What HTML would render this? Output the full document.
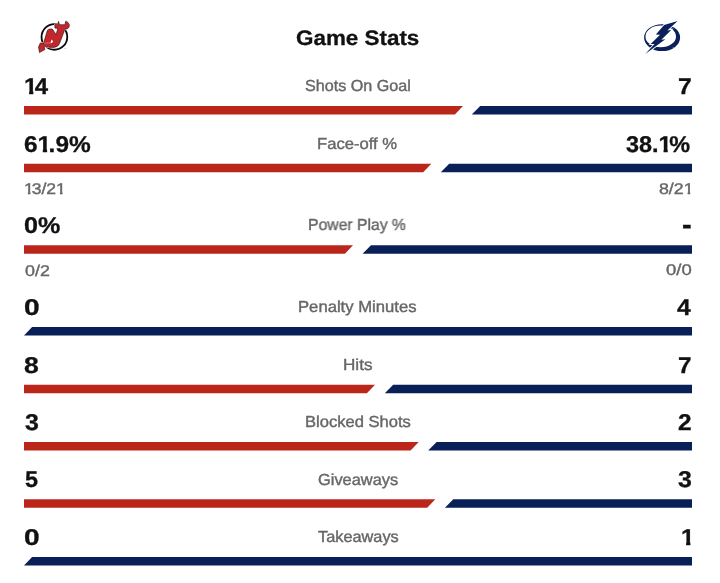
<!DOCTYPE html>
<html><head><meta charset="utf-8"><title>Game Stats</title>
<style>
html,body{margin:0;padding:0;background:#fff;}
body{width:720px;height:583px;position:relative;overflow:hidden;font-family:"Liberation Sans",sans-serif;}
svg{position:absolute;left:0;top:0;}
.t{position:absolute;white-space:nowrap;line-height:1;transform-origin:0 0;will-change:transform;text-rendering:geometricPrecision;}
.b{font-weight:700;color:#111111;-webkit-text-stroke:0.3px #111111;}
.g{font-weight:400;color:#666666;-webkit-text-stroke:0.4px #666666;}
</style></head><body>

<svg width="720" height="583" viewBox="0 0 720 583">
<polygon fill="#BB261B" points="24,106 463,106 454.9,114.5 24,114.5"/>
<polygon fill="#091F57" points="480.2,106 692,106 692,114.5 471.8,114.5"/>
<polygon fill="#BB261B" points="24,163.7 431.3,163.7 423.2,172.2 24,172.2"/>
<polygon fill="#091F57" points="449.2,163.7 692,163.7 692,172.2 440.8,172.2"/>
<polygon fill="#BB261B" points="24,245.15 353,245.15 344.9,253.65 24,253.65"/>
<polygon fill="#091F57" points="371,245.15 692,245.15 692,253.65 362.6,253.65"/>
<polygon fill="#091F57" points="32.1,327 692,327 692,335.5 24,335.5"/>
<polygon fill="#BB261B" points="24,384.65 375,384.65 366.9,393.15 24,393.15"/>
<polygon fill="#091F57" points="393.2,384.65 692,384.65 692,393.15 384.8,393.15"/>
<polygon fill="#BB261B" points="24,442 418.7,442 410.6,450.5 24,450.5"/>
<polygon fill="#091F57" points="436.6,442 692,442 692,450.5 428.2,450.5"/>
<polygon fill="#BB261B" points="24,499.2 435.3,499.2 427.2,507.7 24,507.7"/>
<polygon fill="#091F57" points="453.3,499.2 692,499.2 692,507.7 444.9,507.7"/>
<polygon fill="#091F57" points="32.1,557 692,557 692,565.5 24,565.5"/>
<g>
<circle cx="54.4" cy="36.9" r="12.85" fill="#fff" stroke="#0a0a0a" stroke-width="1.8"/>
<path d="M47.4,30.3 Q48.3,29.2 49.8,29.0 L52.3,29.0 L56.1,34.6 L57.8,28.4 L54.9,28.1 L54.8,24.5 L57.7,24.2 L58.5,21.3 L59.5,24.7 L64.9,24.7 L65.7,21.2 Q68.5,22.0 69.3,24.6 Q69.8,27.2 67.6,28.8 L64.9,29.3 L59.5,43.6 Q58.4,46.9 54.0,47.4 L50,47.4 L47.6,47.1 L44.0,46.0 L44.9,49.6 L39.5,52.6 L38.5,47.0 L40.3,43.0 L43.6,43.1 Z" fill="#fff" stroke="#fff" stroke-width="1.5" stroke-linejoin="round"/>
<path d="M47.4,30.3 Q48.3,29.2 49.8,29.0 L52.3,29.0 L56.1,34.6 L57.8,28.4 L54.9,28.1 L54.8,24.5 L57.7,24.2 L58.5,21.3 L59.5,24.7 L64.9,24.7 L65.7,21.2 Q68.5,22.0 69.3,24.6 Q69.8,27.2 67.6,28.8 L64.9,29.3 L59.5,43.6 Q58.4,46.9 54.0,47.4 L50,47.4 L47.6,47.1 L44.0,46.0 L44.9,49.6 L39.5,52.6 L38.5,47.0 L40.3,43.0 L43.6,43.1 Z" fill="#C1272D" stroke="#2a0c0c" stroke-width="0.6" stroke-linejoin="round"/>
<path d="M51.4,39.6 L53.2,41.3 L51.9,43.0 L50.6,43.0 Z" fill="#fff"/>
<path d="M44.4,43.05 L51,42.95" stroke="#fff" stroke-width="0.45" stroke-opacity="0.75" fill="none"/>
</g>
<g transform="translate(640,16) scale(0.07202)">
<path fill-rule="evenodd" fill="#0A1F5C" d="M307,113 A250,187 0 1 0 307.1,487 A250,187 0 1 0 307,113 Z M288,131 A212,152 0 1 1 287.9,435 A212,152 0 1 1 288,131 Z"/>
<path d="M522,68 L335,126 L220,258 L278,260 L148,388 L202,390 L73,527 L352,322 L296,330 L434,193 L380,202 Z" fill="#0A1F5C" stroke="#fff" stroke-width="24" stroke-linejoin="miter"/>
<path d="M522,68 L335,126 L220,258 L278,260 L148,388 L202,390 L73,527 L352,322 L296,330 L434,193 L380,202 Z" fill="#0A1F5C"/>
</g>
<circle cx="673.2" cy="47.6" r="0.55" fill="#8b93ad"/>
<circle cx="65.1" cy="48.2" r="0.55" fill="#999"/>

</svg>
<div class="t b" style="left:296px;top:27.5px;font-size:21px;transform:scaleX(1.0673)">Game Stats</div>
<div class="t g" style="left:305.1px;top:79.3px;font-size:16px;transform:scaleX(1.0075)">Shots On Goal</div>
<div class="t g" style="left:317.43px;top:137px;font-size:16px;transform:scaleX(1.0393)">Face-off %</div>
<div class="t g" style="left:308.49px;top:218.45px;font-size:16px;transform:scaleX(0.9834)">Power Play %</div>
<div class="t g" style="left:298.43px;top:300.3px;font-size:16px;transform:scaleX(1.0412)">Penalty Minutes</div>
<div class="t g" style="left:343px;top:357.95px;font-size:16px;transform:scaleX(1.0692)">Hits</div>
<div class="t g" style="left:304.74px;top:415.3px;font-size:16px;transform:scaleX(1.0342)">Blocked Shots</div>
<div class="t g" style="left:317.96px;top:472.5px;font-size:16px;transform:scaleX(1.0239)">Giveaways</div>
<div class="t g" style="left:317.97px;top:530.3px;font-size:16px;transform:scaleX(1.0200)">Takeaways</div>
<div class="t b" style="left:23.56px;top:75.1px;font-size:22.8px;transform:scaleX(1.0497)"><span style="display:inline-block;margin-right:-0.105em;clip-path:polygon(0 0,100% 0,100% 15.67px,8.90px 15.67px,8.90px 100%,4.87px 100%,4.87px 15.67px,0 15.67px)">1</span>4</div>
<div class="t b" style="left:24.23px;top:132.8px;font-size:22.8px;transform:scaleX(1.0710)">6<span style="display:inline-block;margin-right:-0.105em;clip-path:polygon(0 0,100% 0,100% 15.67px,8.90px 15.67px,8.90px 100%,4.87px 100%,4.87px 15.67px,0 15.67px)">1</span>.9%</div>
<div class="t b" style="left:23.97px;top:214.25px;font-size:22.8px;transform:scaleX(1.1024)">0%</div>
<div class="t b" style="left:23.88px;top:296.1px;font-size:22.8px;transform:scaleX(1.2315)">0</div>
<div class="t b" style="left:24.07px;top:353.75px;font-size:22.8px;transform:scaleX(1.1652)">8</div>
<div class="t b" style="left:24.79px;top:411.1px;font-size:22.8px;transform:scaleX(1.0925)">3</div>
<div class="t b" style="left:24.69px;top:468.3px;font-size:22.8px;transform:scaleX(1.0298)">5</div>
<div class="t b" style="left:23.88px;top:526.1px;font-size:22.8px;transform:scaleX(1.2315)">0</div>
<div class="t b" style="left:678.35px;top:75.1px;font-size:22.8px;transform:scaleX(1.0818)">7</div>
<div class="t b" style="left:626.41px;top:132.8px;font-size:22.8px;transform:scaleX(1.0276)">38.<span style="display:inline-block;margin-right:-0.105em;clip-path:polygon(0 0,100% 0,100% 15.67px,8.90px 15.67px,8.90px 100%,4.87px 100%,4.87px 15.67px,0 15.67px)">1</span>%</div>
<div class="t b" style="left:677.03px;top:296.1px;font-size:22.8px;transform:scaleX(1.0800)">4</div>
<div class="t b" style="left:678.37px;top:353.75px;font-size:22.8px;transform:scaleX(1.0636)">7</div>
<div class="t b" style="left:678.08px;top:411.1px;font-size:22.8px;transform:scaleX(1.0711)">2</div>
<div class="t b" style="left:677.89px;top:468.3px;font-size:22.8px;transform:scaleX(1.0925)">3</div>
<div class="t b" style="left:681.45px;top:526.1px;font-size:22.8px;transform:scaleX(1.0533)"><span style="display:inline-block;margin-right:-0.105em;clip-path:polygon(0 0,100% 0,100% 15.67px,8.90px 15.67px,8.90px 100%,4.87px 100%,4.87px 15.67px,0 15.67px)">1</span></div>
<div class="t b" style="left:681.87px;top:210.2px;font-size:28.3px;transform:scaleX(1.0267)">-</div>
<div class="t g" style="left:24.19px;top:182px;font-size:15.5px;transform:scaleX(1.1316)"><span style="display:inline-block;margin-right:-0.12em;clip-path:polygon(0 0,100% 0,100% 9.84px,5.72px 9.84px,5.72px 100%,3.45px 100%,3.45px 9.84px,0 9.84px)">1</span>3/2<span style="display:inline-block;margin-right:-0.12em;clip-path:polygon(0 0,100% 0,100% 9.84px,5.72px 9.84px,5.72px 100%,3.45px 100%,3.45px 9.84px,0 9.84px)">1</span></div>
<div class="t g" style="left:659.43px;top:182px;font-size:15.5px;transform:scaleX(1.1439)">8/2<span style="display:inline-block;margin-right:-0.12em;clip-path:polygon(0 0,100% 0,100% 9.84px,5.72px 9.84px,5.72px 100%,3.45px 100%,3.45px 9.84px,0 9.84px)">1</span></div>
<div class="t g" style="left:24.57px;top:263.65px;font-size:15.5px;transform:scaleX(1.1515)">0/2</div>
<div class="t g" style="left:665.95px;top:263.45px;font-size:15.5px;transform:scaleX(1.1904)">0/0</div>
</body></html>
